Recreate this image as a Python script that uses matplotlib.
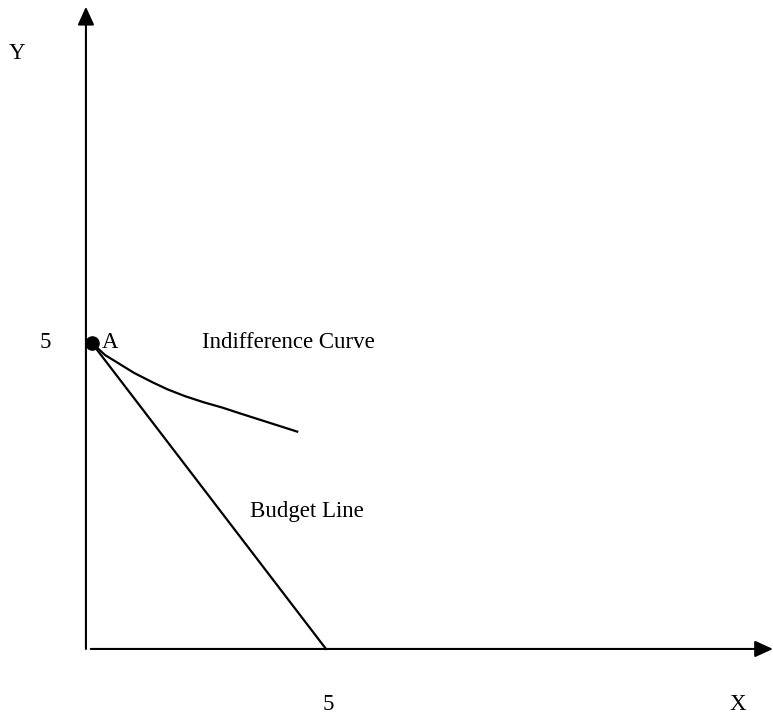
import matplotlib.pyplot as plt

plt.rcParams['font.family'] = ['Liberation Serif', 'DejaVu Serif']

# budget line intercepts
budget_x = [0.12, 5.0]
budget_y = [5.0, 0.0]

# indifference curve
ic_x = [0.12, 0.4, 0.67, 1.0, 1.375, 1.7, 2.06, 2.45, 2.85, 3.2, 3.56, 4.0, 4.4]
ic_y = [5.0, 4.80, 4.67, 4.51, 4.36, 4.24, 4.13, 4.03, 3.94, 3.85, 3.76, 3.65, 3.55]

point_a = (0.12, 5.0)

fig = plt.figure(figsize=(7.73, 7.16), dpi=100)
ax = fig.add_axes([0, 0, 1, 1])
ax.set_xlim(-1.79, 14.31)
ax.set_ylim(-1.095, 10.6)
ax.axis('off')

arrow = dict(arrowstyle='-|>,head_length=1.1,head_width=0.5', lw=1.5,
             color='black', shrinkA=0, shrinkB=0)
ax.annotate('', xy=(0, 10.49), xytext=(0, 0), arrowprops=arrow)
ax.annotate('', xy=(14.31, 0), xytext=(0.1, 0), arrowprops=arrow)

ax.plot(budget_x, budget_y, color='black', lw=1.6)
ax.plot(ic_x, ic_y, color='black', lw=1.6)
ax.plot(*point_a, 'o', color='black', markersize=9.5)

fs = 16.5
ax.text(-1.6, 9.64, 'Y', fontsize=fs, va='baseline')
ax.text(-0.96, 4.92, '5', fontsize=fs, va='baseline')
ax.text(0.33, 4.92, 'A', fontsize=fs, va='baseline')
ax.text(2.42, 4.92, 'Indifference Curve', fontsize=fs, va='baseline')
ax.text(3.42, 2.157, 'Budget Line', fontsize=fs, va='baseline')
ax.text(5.05, -0.997, '5', fontsize=fs, va='baseline', ha='center')
ax.text(13.58, -0.997, 'X', fontsize=fs, va='baseline', ha='center')

fig.savefig('out.png', dpi=100)
